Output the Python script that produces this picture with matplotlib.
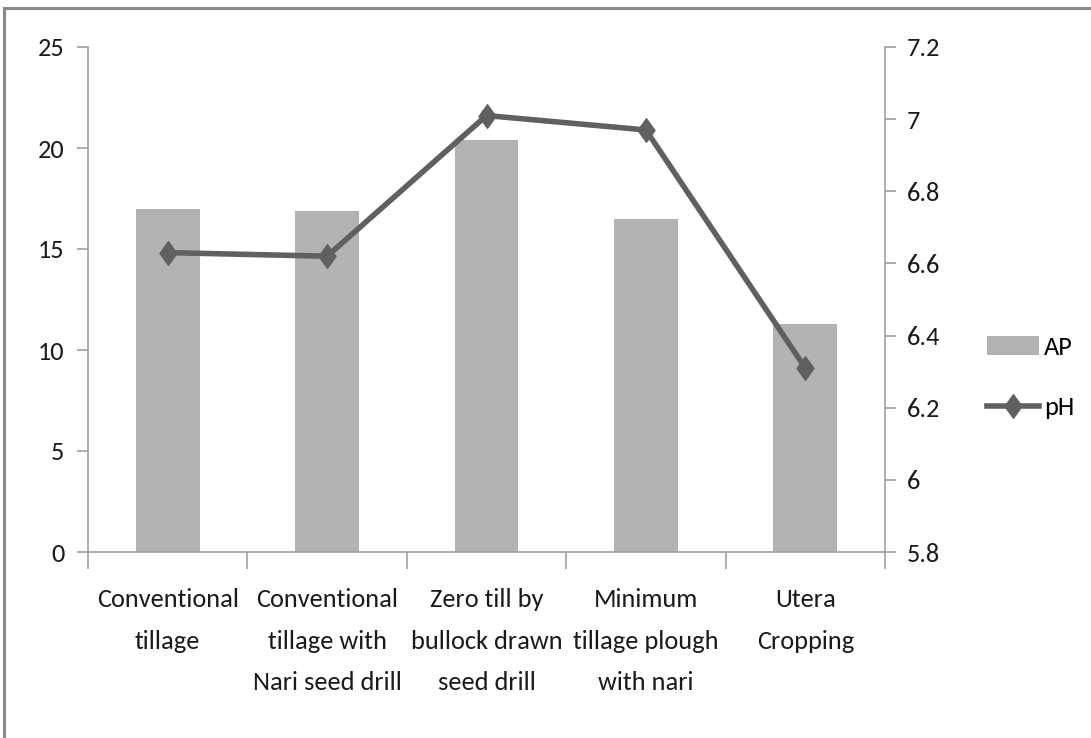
import matplotlib
matplotlib.use("Agg")
import matplotlib.pyplot as plt
import numpy as np
from matplotlib.patches import Rectangle
from matplotlib.path import Path

categories = ["Conventional\ntillage",
              "Conventional\ntillage with\nNari seed drill",
              "Zero till by\nbullock drawn\nseed drill",
              "Minimum\ntillage plough\nwith nari",
              "Utera\nCropping"]
ap_values = [17.0, 16.9, 20.4, 16.5, 11.3]
ph_values = [6.63, 6.62, 7.01, 6.97, 6.31]
left_ticks = [0, 5, 10, 15, 20, 25]
right_ticks = [5.8, 6.0, 6.2, 6.4, 6.6, 6.8, 7.0, 7.2]
right_labels = ["5.8", "6", "6.2", "6.4", "6.6", "6.8", "7", "7.2"]

plt.rcParams['font.family'] = ['Carlito', 'DejaVu Sans']

fs = 19
txt = "#1a1a1a"
axis_col = "#a0a0a0"

fig = plt.figure(figsize=(10.91, 7.38), dpi=100)
ax = fig.add_axes([88/1091, 1-552/738, (885-88)/1091, (552-47)/738])

x = np.arange(len(categories))
bars = ax.bar(x, ap_values, width=0.4, color="#b3b3b3", label="AP", zorder=2)
ax.set_xlim(-0.5, len(categories)-0.5)
ax.set_ylim(0, 25)
ax.set_yticks(left_ticks)
ax.set_yticklabels([str(t) for t in left_ticks], fontsize=fs, color=txt)
ax.set_xticks(x)
ax.set_xticklabels(categories, fontsize=fs, color=txt, linespacing=1.98)
ax.tick_params(axis='x', length=0, pad=26)
ax.set_xticks(np.arange(-0.5, len(categories), 1.0), minor=True)
ax.tick_params(axis='x', which='minor', length=12, color=axis_col, width=1.2)
ax.tick_params(axis='y', length=8, color=axis_col, width=1.2, pad=9)
for s in ['top', 'right']:
    ax.spines[s].set_visible(False)
for s in ['left', 'bottom']:
    ax.spines[s].set_color(axis_col)
    ax.spines[s].set_linewidth(1.2)

ax2 = ax.twinx()
ax2.set_ylim(5.8, 7.2)
ax2.set_yticks(right_ticks)
ax2.set_yticklabels(right_labels, fontsize=fs, color=txt)
ax2.tick_params(axis='y', length=8, color=axis_col, width=1.2, pad=8)
for s in ['top', 'left', 'bottom']:
    ax2.spines[s].set_visible(False)
ax2.spines['right'].set_color(axis_col)
ax2.spines['right'].set_linewidth(1.2)

diamond = Path([(0, 1), (0.72, 0), (0, -1), (-0.72, 0), (0, 1)],
               [Path.MOVETO, Path.LINETO, Path.LINETO, Path.LINETO, Path.CLOSEPOLY])
line, = ax2.plot(x, ph_values, color="#606060", lw=4, marker=diamond,
                 markersize=17, markerfacecolor="#606060", markeredgecolor="#606060",
                 label="pH", zorder=3)

fig.legend(handles=[bars, line], labels=["AP", "pH"], loc='center left',
           bbox_to_anchor=(0.905, 0.4885), frameon=False, fontsize=fs,
           handlelength=1.95, labelspacing=1.43, handletextpad=0.2,
           borderpad=0, borderaxespad=0)

# outer chart border
fig.patches.append(Rectangle((4/1091, -0.05), 1.2, 1.05 - 8/738,
                             transform=fig.transFigure, fill=False,
                             edgecolor="#8a8a8a", lw=2.2))

fig.savefig("out.png", dpi=100)
